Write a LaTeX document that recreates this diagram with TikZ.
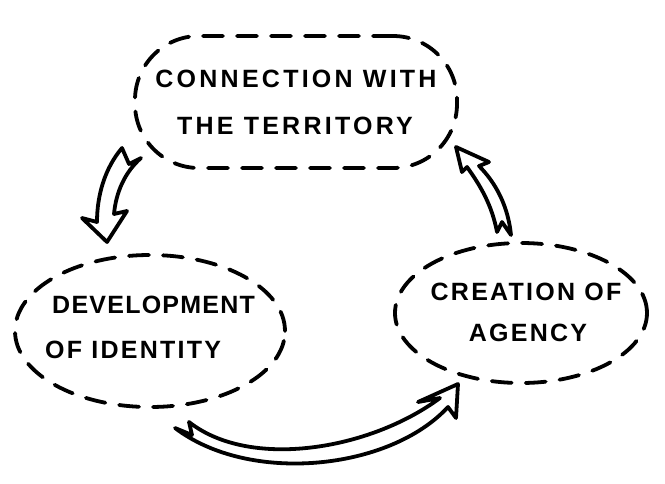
\documentclass[tikz,border=0pt]{standalone}
\usepackage{fontspec}
\setmainfont{Liberation Sans}[LetterSpace=9]
\usetikzlibrary{shapes.geometric,calc}
\begin{document}
\begin{tikzpicture}[x=1pt,y=-1pt,
  bubble/.style={draw, line width=3.8pt, dash pattern=on 20pt off 14pt, line cap=round},
  lbl/.style={font=\fontsize{25}{29}\selectfont\bfseries, inner sep=0pt},
  wide/.style={font=\fontsize{25}{29}\selectfont\bfseries\addfontfeature{LetterSpace=13}},
  tight/.style={font=\fontsize{25}{29}\selectfont\bfseries\addfontfeature{LetterSpace=5}},
  blockarrow/.style={draw, line width=3.8pt, line join=round, fill=white}]
\useasboundingbox[fill=white] (0,0) rectangle (665,483);
\node[bubble, rectangle, rounded corners=64pt, minimum width=322pt, minimum height=132pt] (terr) at (296,102) {};
\node[bubble, ellipse, minimum width=270pt, minimum height=152pt] (ident) at (150,331) {};
\node[bubble, ellipse, minimum width=252pt, minimum height=140pt] (agen) at (521,313) {};
\node[lbl, wide] (terr1) at (296,79) {CONNECTION WITH};
\node[lbl, wide] (terr2) at (295,126) {THE TERRITORY};
\node[lbl, tight, anchor=west] (ident1) at (52,305) {DEVELOPMENT};
\node[lbl, anchor=west] (ident2) at (45,350) {OF IDENTITY};
\node[lbl] (agen1) at (526,292) {CREATION OF};
\node[lbl] (agen2) at (528,333) {AGENCY};
% arrow: territory -> identity
\draw[blockarrow] (122,148) -- (129,164) -- (141,158) .. controls (125,172) and (116,192) .. (114,214) -- (127,211) -- (107,242) -- (82,218) -- (97,222) .. controls (97,195) and (105,168) .. (122,148) -- cycle;
% arrow: identity -> agency
\draw[blockarrow] (175,428) -- (192,435) -- (189,422) .. controls (250,470) and (370,450) .. (440,398) -- (418,402) -- (458,384) -- (456,418) -- (448,407) .. controls (390,470) and (250,485) .. (175,428) -- cycle;
% arrow: agency -> territory
\draw[blockarrow] (456,147) -- (462,172) -- (467,167) .. controls (480,185) and (492,205) .. (497,232) -- (502,222) -- (511,235) .. controls (508,205) and (495,182) .. (479,166) -- (489,162) -- cycle;
\end{tikzpicture}
\end{document}
